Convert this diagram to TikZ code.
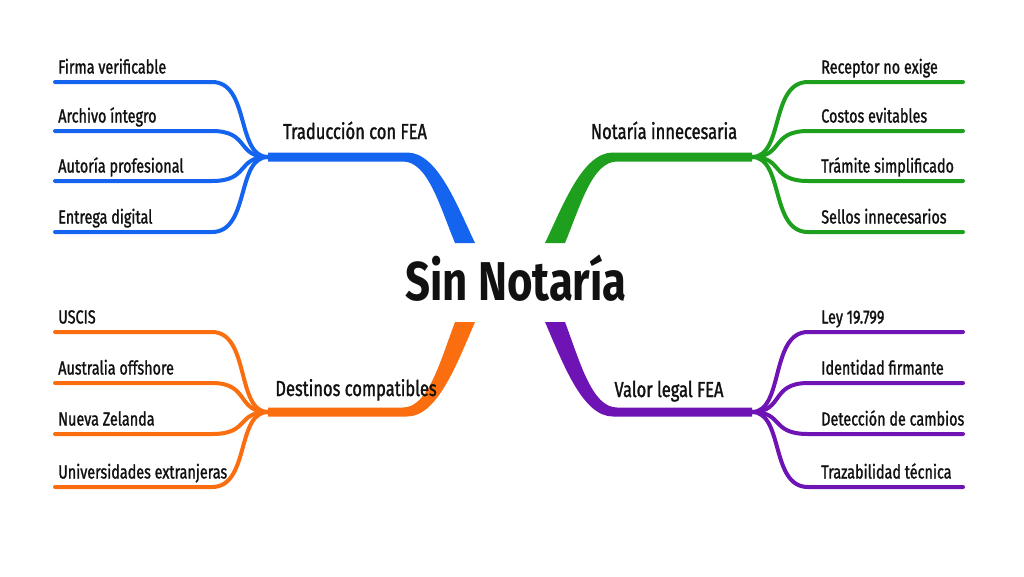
\documentclass[tikz,border=0pt]{standalone}
\usepackage{fontspec}
\setmainfont{Fira Sans}[FakeStretch=0.8]
\newfontfamily\lblfont{Fira Sans}[FakeStretch=0.76,FakeBold=1.3]
\definecolor{cB}{RGB}{20,100,240}
\definecolor{cG}{RGB}{30,160,30}
\definecolor{cO}{RGB}{250,110,15}
\definecolor{cP}{RGB}{110,20,180}
\definecolor{ink}{RGB}{17,17,17}
\begin{document}
\begin{tikzpicture}[x=0.75pt,y=-0.75pt,
  leaf/.style={line width=3pt,line cap=round},
  leaftext/.style={anchor=base west,inner sep=0pt,text=ink,font=\lblfont\fontsize{14.2}{16}\selectfont},
  branchtext/.style={anchor=base,inner sep=0pt,text=ink,font=\lblfont\fontsize{16.3}{18}\selectfont},
  roottext/.style={anchor=base,inner sep=0pt,text=ink,font=\bfseries\fontsize{41}{44}\selectfont}]
\useasboundingbox[fill=white] (0,0) rectangle (1024,576);

% root
\node[roottext] (root) at (516,300) {Sin Notaría};

% hubs
\coordinate (hB) at (268,157);
\coordinate (hG) at (752,157);
\coordinate (hO) at (268,412);
\coordinate (hP) at (752,412);

% main branches
\fill[cB] (268,152.5) -- (407,152.5) .. controls (437,152.5) and (456,203) .. (475,243) -- (455,243) .. controls (440,207) and (428,161.5) .. (403,161.5) -- (268,161.5) -- cycle;
\fill[cG] (752,152.5) -- (613,152.5) .. controls (583,152.5) and (564,203) .. (545,243) -- (565,243) .. controls (580,207) and (592,161.5) .. (617,161.5) -- (752,161.5) -- cycle;
\fill[cO] (268,416.5) -- (407,416.5) .. controls (437,416.5) and (456,366) .. (475,322) -- (455,322) .. controls (440,362) and (428,407.5) .. (403,407.5) -- (268,407.5) -- cycle;
\fill[cP] (752,416.5) -- (613,416.5) .. controls (583,416.5) and (564,366) .. (545,322) -- (565,322) .. controls (580,362) and (592,407.5) .. (617,407.5) -- (752,407.5) -- cycle;

% branch labels
\node[branchtext] (tB) at (355,139) {Traducción con FEA};
\node[branchtext] (tG) at (664,139) {Notaría innecesaria};
\node[branchtext] (tO) at (356,396) {Destinos compatibles};
\node[branchtext] (tP) at (669,397) {Valor legal FEA};

% blue leaves
\foreach \y/\n/\t in {82/1/Firma verificable,131/2/Archivo íntegro,181/3/Autoría profesional,232/4/Entrega digital}{
  \coordinate (B\n) at (55,\y);
  \draw[leaf,cB] (hB) .. controls (236,157) and (250,\y) .. (212,\y) -- (B\n);
  \node[leaftext] (lB\n) at (58,\y-8.5) {\t};
}
% green leaves
\foreach \y/\n/\t in {82/1/Receptor no exige,131/2/Costos evitables,181/3/Trámite simplificado,232/4/Sellos innecesarios}{
  \coordinate (G\n) at (963,\y);
  \draw[leaf,cG] (hG) .. controls (784,157) and (770,\y) .. (808,\y) -- (G\n);
  \node[leaftext] (lG\n) at (821,\y-8.5) {\t};
}
% orange leaves
\foreach \y/\n/\t in {332/1/USCIS,383/2/Australia offshore,434/3/Nueva Zelanda,487/4/Universidades extranjeras}{
  \coordinate (O\n) at (55,\y);
  \draw[leaf,cO] (hO) .. controls (236,412) and (250,\y) .. (212,\y) -- (O\n);
  \node[leaftext] (lO\n) at (58,\y-8.5) {\t};
}
% purple leaves
\foreach \y/\n/\t in {332/1/Ley 19.799,383/2/Identidad firmante,434/3/Detección de cambios,487/4/Trazabilidad técnica}{
  \coordinate (P\n) at (963,\y);
  \draw[leaf,cP] (hP) .. controls (784,412) and (770,\y) .. (808,\y) -- (P\n);
  \node[leaftext] (lP\n) at (821,\y-8.5) {\t};
}
\end{tikzpicture}
\end{document}
